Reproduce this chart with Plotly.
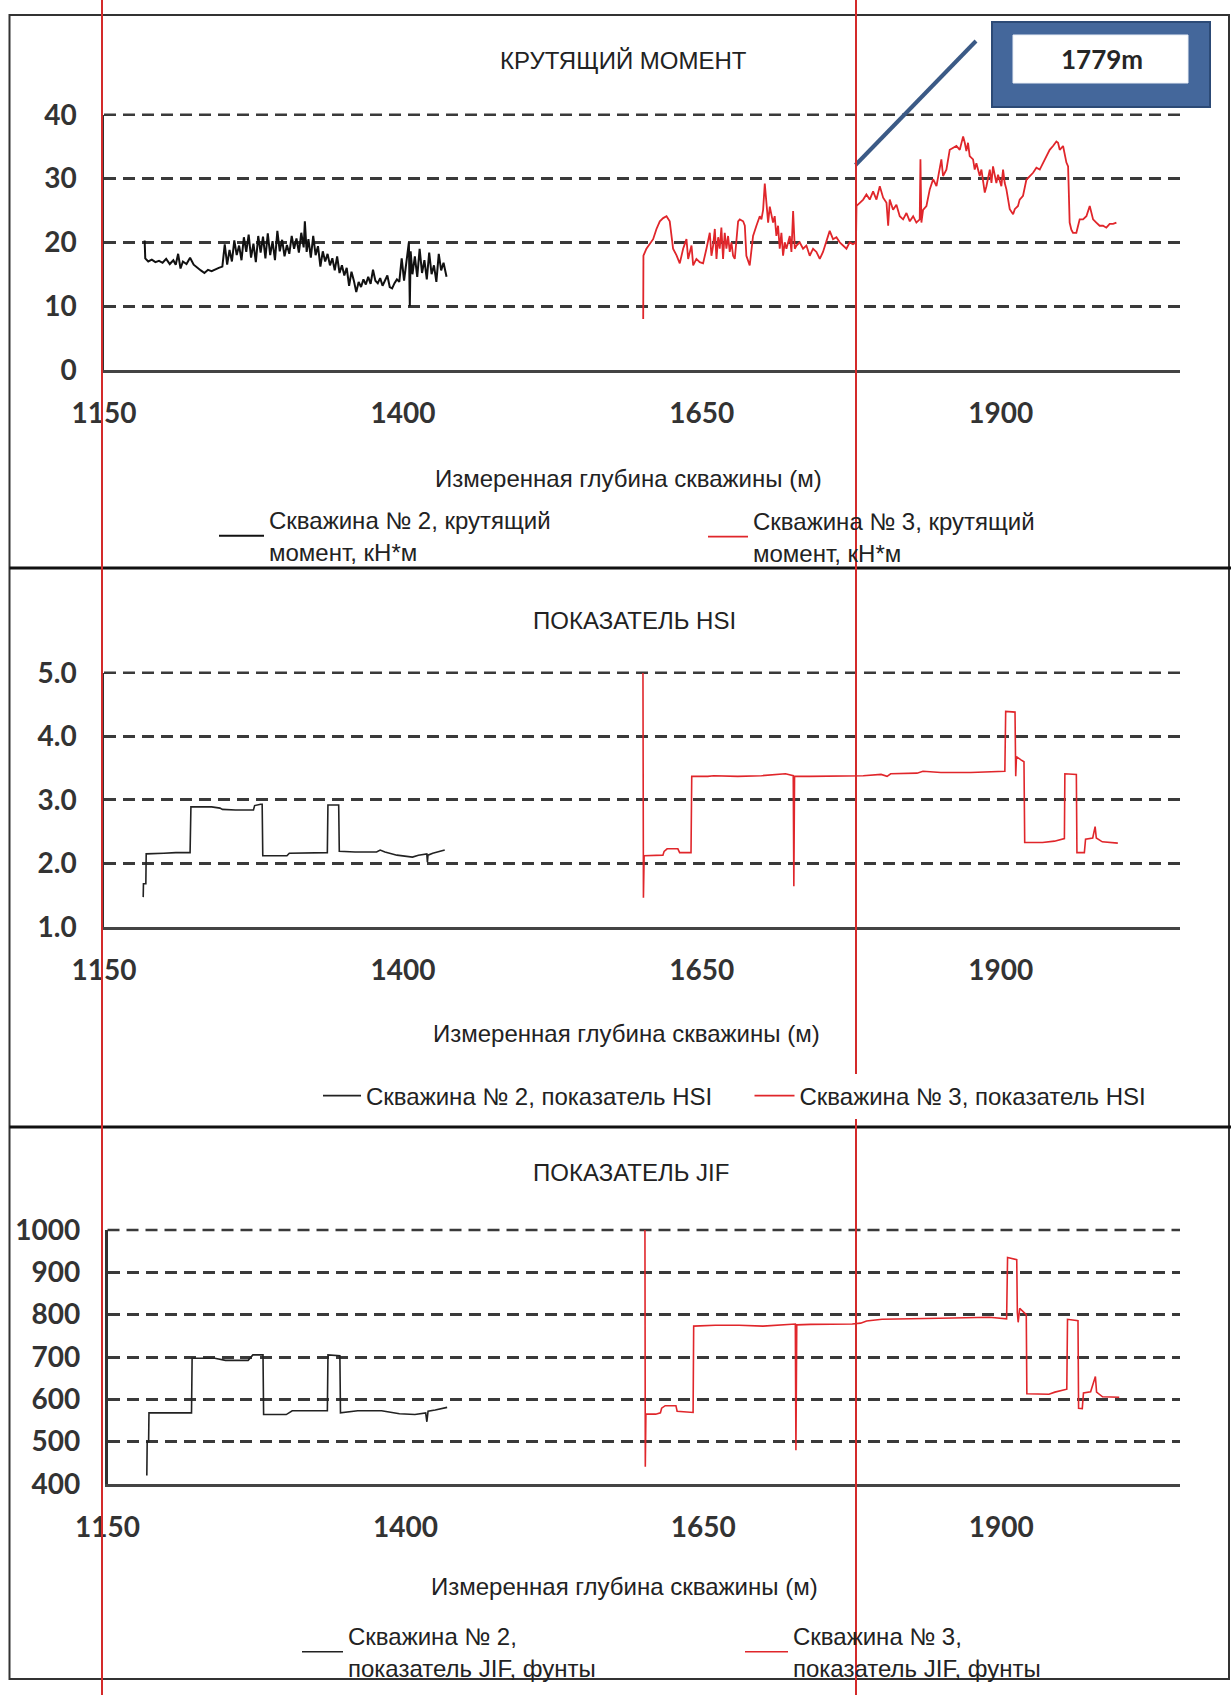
import plotly.graph_objects as go

W, H = 1231, 1695

# ---------------- data ----------------
torque2_depth = [1184, 1184.5, 1187, 1190, 1193, 1196, 1199, 1202, 1205, 1208, 1210, 1212, 1214, 1216, 1219, 1222, 1225,
                 1228, 1231, 1234, 1237, 1240, 1243, 1246, 1249, 1251, 1253, 1255, 1257, 1259, 1261, 1263, 1265, 1267,
                 1269, 1271, 1273, 1275, 1277, 1279, 1281, 1283, 1285, 1287, 1289, 1291, 1293, 1295, 1297, 1299, 1301,
                 1303, 1305, 1307, 1309, 1311, 1313, 1315, 1317, 1318, 1319.5, 1321, 1323, 1325, 1327, 1329, 1331, 1333,
                 1335, 1337, 1339, 1341, 1343, 1345, 1347, 1349, 1351, 1353, 1355, 1357, 1359, 1361, 1363, 1365, 1367,
                 1369, 1371, 1373, 1375, 1377, 1379, 1381, 1383, 1385, 1387, 1389, 1391, 1393, 1395, 1397, 1399, 1401,
                 1403, 1405, 1405.8, 1406.5, 1408, 1410, 1412, 1414, 1416, 1418, 1420, 1422, 1424, 1426, 1428, 1430,
                 1432, 1434, 1436.5]
torque2_value = [20.3, 17.5, 17.0, 17.3, 16.9, 17.1, 16.8, 17.4, 16.6, 17.2, 16.5, 18.2, 15.9, 17.0, 16.6, 17.6, 16.5,
                 16.0, 15.6, 15.2, 15.7, 15.5, 15.8, 16.0, 16.2, 19.7, 16.5, 18.8, 17.0, 20.3, 18.0, 19.5, 17.2, 20.8,
                 18.5, 21.2, 17.6, 19.8, 16.9, 21.0, 18.4, 20.9, 17.5, 21.4, 18.0, 20.2, 17.2, 21.8, 18.6, 20.4, 17.8,
                 19.6, 18.2, 21.0, 19.0, 20.6, 18.4, 21.5, 19.2, 23.3, 18.5, 20.5, 17.6, 21.0, 18.0, 19.4, 16.2, 18.6,
                 17.0, 18.2, 16.4, 17.5, 15.6, 17.8, 15.2, 16.4, 14.8, 16.0, 13.2, 15.4, 14.0, 12.2, 13.8, 13.0, 14.2,
                 13.4, 14.6, 13.5, 15.7, 14.0, 13.6, 14.4, 13.2, 13.9, 14.8, 13.0, 12.8, 13.6, 14.2, 13.8, 17.5, 14.0,
                 16.8, 20.0, 10.0, 18.6, 15.0, 17.8, 14.6, 19.0, 15.2, 17.2, 14.2, 18.4, 15.0, 16.4, 13.8, 18.2,
                 15.6, 16.8, 14.6]

torque3_depth = [1601.0, 1601.2, 1603.7, 1606.5, 1609.3, 1612.1, 1614.9, 1617.7, 1620.5, 1623.2, 1624.6, 1626.0, 1628.8,
                 1631.6, 1634.4, 1637.2, 1638.6, 1641.4, 1642.8, 1645.5, 1648.3, 1651.1, 1653.9, 1656.7, 1658.1, 1659.5,
                 1660.9, 1662.3, 1663.7, 1665.0, 1666.4, 1667.8, 1669.2, 1670.6, 1672.0, 1673.4, 1674.8, 1676.2, 1677.6,
                 1679.0, 1680.4, 1681.8, 1684.6, 1686.0, 1687.3, 1690.1, 1691.5, 1692.9, 1695.7, 1698.5, 1699.9, 1701.3,
                 1702.7, 1704.1, 1705.5, 1706.9, 1709.6, 1711.0, 1712.4, 1713.8, 1715.2, 1716.6, 1718.0, 1719.4, 1720.8,
                 1723.6, 1725.0, 1726.4, 1727.8, 1729.2, 1731.9, 1734.7, 1737.5, 1740.3, 1743.1, 1745.9, 1748.7, 1751.4,
                 1754.2, 1757.0, 1759.8, 1762.6, 1765.4, 1768.2, 1771.0, 1773.7, 1776.5, 1779.0,
                 1779.4, 1782.2, 1785.0, 1787.7, 1790.5, 1793.3, 1796.1, 1798.9, 1801.7, 1804.5, 1805.9, 1807.2, 1810.0,
                 1812.8, 1815.6, 1818.4, 1821.2, 1824.0, 1826.8, 1829.5, 1832.3, 1832.9, 1833.7, 1835.1, 1837.9, 1840.7,
                 1843.5, 1846.3, 1849.0, 1850.4, 1851.8, 1854.6, 1857.4, 1860.2, 1863.0, 1865.8, 1868.6, 1870.0, 1871.3,
                 1872.7, 1874.1, 1876.9, 1878.3, 1879.7, 1882.5, 1883.9, 1885.3, 1886.7, 1888.1, 1890.9, 1892.3, 1893.6,
                 1896.4, 1897.8, 1900.6, 1902.0, 1903.4, 1904.8, 1907.6, 1910.4, 1911.8, 1914.5, 1915.9, 1918.7, 1921.5,
                 1924.3, 1927.1, 1929.9, 1932.7, 1935.4, 1938.2, 1941.0, 1943.8, 1946.6, 1948.0, 1949.4, 1952.2, 1953.6,
                 1955.0, 1956.4, 1957.7, 1959.1, 1960.5, 1963.3, 1966.1, 1968.9, 1971.7, 1974.5, 1977.3, 1980.0, 1982.8,
                 1985.6, 1988.4, 1991.2, 1994.0, 1996.8]
torque3_value = [8.0, 17.9, 19.0, 19.7, 20.5, 22.1, 23.3, 23.8, 24.1, 23.3, 21.0, 19.0, 18.0,
                 16.7, 19.0, 20.5, 17.4, 19.5, 16.4, 17.4, 16.9, 16.7, 19.0, 21.5, 17.9, 19.5,
                 22.1, 17.4, 20.8, 19.0, 22.3, 17.4, 21.5, 19.0, 21.0, 18.5, 20.0, 17.9, 17.4,
                 21.0, 23.3, 23.6, 23.3, 22.6, 17.9, 16.4, 19.0, 21.0, 22.6, 24.1, 23.6, 25.1,
                 29.2, 26.7, 23.1, 25.6, 23.1, 24.1, 21.0, 22.6, 19.0, 21.5, 17.9, 20.0, 19.0,
                 21.0, 18.5, 24.9, 19.0, 19.5, 20.0, 19.0, 19.5, 17.9, 19.0, 18.5, 17.4, 18.5,
                 20.0, 21.8, 20.5, 20.8, 20.0, 19.5, 19.0, 20.0, 19.7, 20.0,
                 25.7, 26.2, 26.7, 27.5, 26.7, 28.0, 26.7, 28.8, 27.0, 26.2, 22.6, 26.7, 25.1,
                 25.9, 24.1, 23.6, 24.6, 23.3, 24.1, 23.1, 23.6, 33.0, 23.1, 25.1, 25.7, 28.3,
                 29.9, 28.8, 31.9, 33.0, 30.4, 31.4, 34.5, 34.8, 35.1, 34.5, 36.6, 35.6, 34.3,
                 35.6, 33.5, 33.0, 31.4, 32.4, 30.4, 31.4, 29.3, 27.8, 28.8, 31.4, 29.3, 31.9,
                 29.3, 30.6, 28.8, 31.4, 29.3, 28.3, 25.2, 24.4, 25.2, 25.7, 26.7, 27.3, 29.8,
                 30.4, 30.9, 31.7, 31.4, 32.4, 33.5, 34.5, 35.1, 35.8, 35.6, 34.5, 35.1, 33.5,
                 32.5, 31.9, 23.1, 22.0, 21.5, 21.5, 23.6, 23.6, 24.1, 25.7, 23.6, 23.1, 22.6,
                 22.6, 22.3, 22.9, 22.9, 23.1]

hsi2_depth = [1182.8, 1183.0, 1185.0, 1185.3, 1200, 1210, 1222.0, 1222.7, 1240, 1247, 1249, 1260, 1275, 1276, 1281,
              1282.3, 1282.8, 1300, 1303, 1305, 1325, 1336.8, 1337.3, 1345, 1346.3, 1346.8, 1360, 1378, 1381, 1385,
              1395, 1408, 1413, 1420, 1420.5, 1421, 1425, 1435]
hsi2_value = [1.47, 1.68, 1.68, 2.15, 2.16, 2.17, 2.17, 2.89, 2.89, 2.87, 2.85, 2.84, 2.84, 2.91, 2.93,
              2.93, 2.12, 2.11, 2.12, 2.16, 2.17, 2.17, 2.92, 2.92, 2.92, 2.19, 2.18, 2.18, 2.21, 2.18,
              2.13, 2.10, 2.13, 2.15, 2.02, 2.13, 2.16, 2.21]

hsi3_depth = [1600.8, 1601.2, 1601.8, 1610, 1617.5, 1618.5, 1621, 1630, 1631.5, 1641.0, 1641.6, 1655, 1660, 1680,
              1700, 1720, 1726.5, 1727.0, 1727.6, 1740, 1760, 1775, 1785, 1800, 1805, 1808, 1830, 1835, 1850, 1875,
              1890, 1903.5, 1904.2, 1912, 1912.6, 1913.2, 1917, 1919.5, 1920.1, 1935, 1945, 1952, 1953.3, 1953.7,
              1963.3, 1963.8, 1970, 1971, 1977, 1979, 1980, 1985, 1998]
hsi3_value = [5.0, 1.46, 2.12, 2.12, 2.13, 2.19, 2.23, 2.23, 2.17, 2.17, 3.37, 3.37, 3.38, 3.37,
              3.38, 3.41, 3.38, 1.64, 3.37, 3.37, 3.37, 3.38, 3.38, 3.40, 3.37, 3.41, 3.42, 3.45, 3.43, 3.43,
              3.44, 3.45, 4.39, 4.38, 3.37, 3.68, 3.63, 3.60, 2.33, 2.33, 2.35, 2.39, 2.39, 3.41,
              3.40, 2.17, 2.17, 2.38, 2.40, 2.58, 2.40, 2.34, 2.32]

jif2_depth = [1183.0, 1183.3, 1184.5, 1184.8, 1200, 1220.5, 1221.0, 1240, 1249, 1268, 1272, 1280.5, 1281.0, 1300,
              1305, 1334.5, 1335.0, 1345, 1345.5, 1360, 1380, 1395, 1408, 1417, 1418, 1419, 1425, 1435]
jif2_value = [420, 500, 500, 568, 568, 568, 697, 697, 692, 692, 705, 705, 564, 564,
              573, 573, 705, 703, 568, 573, 573, 566, 564, 568, 547, 572, 575, 581]

jif3_depth = [1601.0, 1601.3, 1601.8, 1610, 1614, 1615, 1618, 1627, 1628, 1641.4, 1641.9, 1660, 1680, 1700, 1720,
              1727.2, 1727.7, 1728.4, 1740, 1760, 1775, 1782, 1787, 1800, 1830, 1860, 1890, 1904.5, 1905.3, 1913,
              1913.5, 1914.2, 1915.5, 1918, 1921.0, 1921.5, 1940, 1945, 1955, 1955.6, 1964.4, 1964.9, 1968, 1969,
              1975, 1979, 1980, 1985, 1999]
jif3_value = [1000, 441, 565, 565, 568, 579, 585, 585, 572, 569, 773, 775, 775, 773, 776,
              778, 480, 776, 777, 777, 778, 780, 785, 789, 790, 792, 794, 790, 935, 930,
              805, 782, 815, 808, 800, 613, 612, 617, 624, 789, 786, 579, 578, 615,
              618, 654, 617, 606, 605]

depth_ticks = [1150, 1400, 1650, 1900]
torque_ticks = [0, 10, 20, 30, 40]
hsi_ticks = [1.0, 2.0, 3.0, 4.0, 5.0]
hsi_ticklabels = ["1.0", "2.0", "3.0", "4.0", "5.0"]
jif_ticks = [400, 500, 600, 700, 800, 900, 1000]

titles = ["КРУТЯЩИЙ МОМЕНТ", "ПОКАЗАТЕЛЬ HSI", "ПОКАЗАТЕЛЬ JIF"]
xtitle = "Измеренная глубина скважины (м)"
names = ["Скважина № 2, крутящий<br>момент, кН*м", "Скважина № 3, крутящий<br>момент, кН*м",
         "Скважина № 2, показатель HSI", "Скважина № 3, показатель HSI",
         "Скважина № 2,<br>показатель JIF, фунты", "Скважина № 3,<br>показатель JIF, фунты"]
marker_depth = 1779
marker_label = "1779m"

# ---------------- helpers ----------------
def px(x):
    return x / W

def py(y):
    return 1 - y / H

TXT = "Liberation Sans, Arial, sans-serif"
TICKFONT = dict(family="Lato, sans-serif", size=28, color="#333333", weight="bold")
BLACK = "#111111"
RED = "#e0262b"
GRIDC = "#3a3a3a"
DASH = "12px,7px"

fig = go.Figure()

series = [
    (torque2_depth, torque2_value, BLACK, 2.0, "x", "y", names[0], "legend"),
    (torque3_depth, torque3_value, RED, 1.8, "x", "y", names[1], "legend2"),
    (hsi2_depth, hsi2_value, "#222222", 1.6, "x2", "y2", names[2], "legend3"),
    (hsi3_depth, hsi3_value, RED, 1.6, "x2", "y2", names[3], "legend4"),
    (jif2_depth, jif2_value, "#222222", 1.6, "x3", "y3", names[4], "legend5"),
    (jif3_depth, jif3_value, RED, 1.6, "x3", "y3", names[5], "legend6"),
]
for d, v, c, lw, xa, ya, nm, lg in series:
    fig.add_trace(go.Scatter(x=d, y=v, mode="lines", line=dict(color=c, width=lw),
                             xaxis=xa, yaxis=ya, name=nm, legend=lg, showlegend=True))

xdom_top = [px(104), px(1180)]
xdom_bot = [px(107.5), px(1180)]
ydoms = [[py(370), py(114.7)], [py(927), py(672.7)], [py(1484), py(1230)]]

grid = dict(showgrid=True, gridcolor=GRIDC, gridwidth=2.5, griddash=DASH, zeroline=False,
            showline=True, linecolor="#333333", linewidth=2.5, ticks="", tickfont=TICKFONT,
            ticklabelstandoff=19, automargin=False)
xcommon = dict(range=[1150, 2050], tickvals=depth_ticks, showgrid=False, zeroline=False, showline=True,
               linecolor="#444444", linewidth=2.5, ticks="", tickfont=TICKFONT, ticklabelstandoff=17,
               automargin=False)

yranges = [[0, 40], [1, 5], [400, 1000]]
fig.update_layout(
    width=W, height=H, margin=dict(l=0, r=0, t=0, b=0, autoexpand=False), autosize=False,
    paper_bgcolor="white", plot_bgcolor="white",
    xaxis=dict(domain=xdom_top, anchor="y", **xcommon),
    xaxis2=dict(domain=xdom_top, anchor="y2", **xcommon),
    xaxis3=dict(domain=xdom_bot, anchor="y3", **xcommon),
    yaxis=dict(domain=ydoms[0], anchor="x", range=yranges[0], tickvals=torque_ticks, **grid),
    yaxis2=dict(domain=ydoms[1], anchor="x2", range=yranges[1], tickvals=hsi_ticks, ticktext=hsi_ticklabels, **grid),
    yaxis3=dict(domain=ydoms[2], anchor="x3", range=yranges[2], tickvals=jif_ticks, **grid),
)

# legends
LFONT = dict(family=TXT, size=24, color="#222222")
leg_specs = [
    ("legend", 214, 536, 45, "rgba(0,0,0,0)"),
    ("legend2", 703, 537, 40, "rgba(0,0,0,0)"),
    ("legend3", 318, 1096, 38, "white"),
    ("legend4", 749.5, 1096, 40, "white"),
    ("legend5", 297, 1652, 41, "rgba(0,0,0,0)"),
    ("legend6", 740, 1652, 43, "rgba(0,0,0,0)"),
]
for key, lx, ly, iw, bg in leg_specs:
    fig.update_layout(**{key: dict(x=px(lx), y=py(ly), xanchor="left", yanchor="middle", xref="paper",
                                   yref="paper", font=LFONT, itemwidth=iw, bgcolor=bg, borderwidth=0,
                                   tracegroupgap=0)})

# annotations: titles and axis titles
ann = []
for t, (cx, cy) in zip(titles, [(623, 60), (634, 620), (631, 1172)]):
    ann.append(dict(text=t, x=px(cx), y=py(cy), xref="paper", yref="paper", showarrow=False,
                    font=dict(family=TXT, size=24, color="#222222"), xanchor="center", yanchor="middle"))
for cx, cy in [(628.5, 478), (626.5, 1033), (624.5, 1586)]:
    ann.append(dict(text=xtitle, x=px(cx), y=py(cy), xref="paper", yref="paper", showarrow=False,
                    font=dict(family=TXT, size=24, color="#222222"), xanchor="center", yanchor="middle"))
ann.append(dict(text="<b>" + marker_label + "</b>", x=px(1102), y=py(59), xref="paper", yref="paper",
                showarrow=False, font=dict(family="Lato, sans-serif", size=26, color="#262626"),
                xanchor="center", yanchor="middle"))
fig.update_layout(annotations=ann)

shapes = []
# outer frame and dividers
shapes.append(dict(type="rect", xref="paper", yref="paper", x0=px(9.5), x1=px(1229), y0=py(1679), y1=py(15),
                   line=dict(color="#333333", width=2), fillcolor="rgba(0,0,0,0)", layer="below"))
for yy in [568, 1127]:
    shapes.append(dict(type="line", xref="paper", yref="paper", x0=px(9.5), x1=px(1231), y0=py(yy), y1=py(yy),
                       line=dict(color="#111111", width=3)))
# top gridline of each panel (plotly omits the grid line at the range edge)
for xd, yd in [(xdom_top, ydoms[0]), (xdom_top, ydoms[1]), (xdom_bot, ydoms[2])]:
    shapes.append(dict(type="line", xref="paper", yref="paper", x0=xd[0], x1=xd[1], y0=yd[1], y1=yd[1],
                       line=dict(color=GRIDC, width=2.5, dash=DASH), layer="below"))
# label box with leader line
shapes.append(dict(type="line", xref="paper", yref="paper", x0=px(855.5), y0=py(165), x1=px(976), y1=py(41),
                   line=dict(color="#3b5a86", width=4)))
shapes.append(dict(type="rect", xref="paper", yref="paper", x0=px(992), x1=px(1210), y0=py(107), y1=py(22),
                   line=dict(color="#2c4a76", width=2), fillcolor="#44679b"))
shapes.append(dict(type="rect", xref="paper", yref="paper", x0=px(1013), x1=px(1188), y0=py(83), y1=py(35),
                   line=dict(color="#e8eef6", width=1), fillcolor="white"))
# red vertical markers through all panels
shapes.append(dict(type="line", xref="paper", yref="paper", x0=px(102), x1=px(102), y0=0, y1=1,
                   line=dict(color="#d42a2a", width=2)))
shapes.append(dict(type="line", xref="x", yref="paper", x0=marker_depth, x1=marker_depth, y0=0, y1=1,
                   line=dict(color="#d42a2a", width=2)))
fig.update_layout(shapes=shapes)

fig.write_html("out.html")
